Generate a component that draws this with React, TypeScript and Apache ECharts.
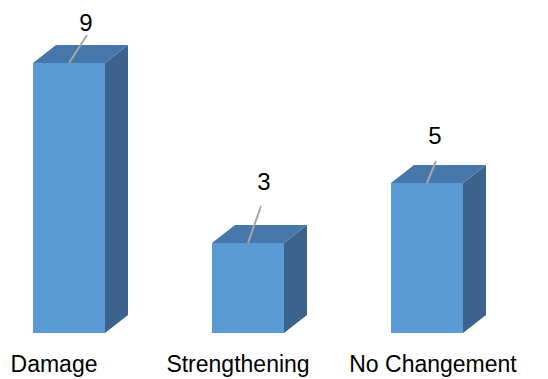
import React, { useEffect, useRef } from "react";
import * as echarts from "echarts";

const categories = ["Damage", "Strengthening", "No Changement"];
const values = [9, 3, 5];

// Layout of annotations (relative to the top-centre of each bar's front face)
const VALUE_LABEL_OFFSET = [
  [17, -41],
  [16, -62],
  [8, -48],
];
const LEADER_END_OFFSET = [
  [18, -28],
  [13, -37],
  [9, -22],
];
const CATEGORY_LABEL_SHIFT = [-15, -10, 6];

const FRONT = "#5B9BD5";
const TOP = "#4676AA";
const SIDE = "#3B638E";
const FONT = "Liberation Sans, Arial, sans-serif";

export default function App() {
  const ref = useRef<HTMLDivElement>(null);
  useEffect(() => {
    if (!ref.current) return;
    const chart = echarts.init(ref.current, undefined, { renderer: "svg" });
    const data = values.map((v, i) => [i, v]);
    chart.setOption({
      animation: false,
      backgroundColor: "#ffffff",
      grid: { left: 0, width: 537, top: 33, bottom: 46 },
      xAxis: {
        type: "category",
        data: categories,
        axisLine: { show: false },
        axisTick: { show: false },
        axisLabel: { show: false },
      },
      yAxis: { type: "value", min: 0, max: 10, show: false, splitLine: { show: false } },
      series: [
        {
          type: "custom",
          data,
          renderItem: (params: any, api: any) => {
            const idx = api.value(0);
            const val = api.value(1);
            const top = api.coord([idx, val]);
            const base = api.coord([idx, 0]);
            const cx = top[0] - 20.5;
            const half = 36;
            const x0 = cx - half;
            const x1 = cx + half;
            const yT = top[1];
            const yB = base[1];
            const dx = 23;
            const dy = 18;
            const lo = VALUE_LABEL_OFFSET[idx];
            const le = LEADER_END_OFFSET[idx];
            return {
              type: "group",
              children: [
                {
                  type: "polygon",
                  shape: { points: [[x1, yT], [x1 + dx, yT - dy], [x1 + dx, yB - dy], [x1, yB]] },
                  style: { fill: SIDE },
                },
                {
                  type: "polygon",
                  shape: { points: [[x0, yT], [x1, yT], [x1 + dx, yT - dy], [x0 + dx, yT - dy]] },
                  style: { fill: TOP },
                },
                {
                  type: "rect",
                  shape: { x: x0, y: yT, width: x1 - x0, height: yB - yT },
                  style: { fill: FRONT },
                },
                {
                  type: "line",
                  shape: { x1: cx, y1: yT, x2: cx + le[0], y2: yT + le[1] },
                  style: { stroke: "#A6A6A6", lineWidth: 2 },
                },
                {
                  type: "text",
                  x: cx + lo[0],
                  y: yT + lo[1],
                  style: {
                    text: String(val),
                    fill: "#000",
                    font: `24px ${FONT}`,
                    align: "center",
                    verticalAlign: "middle",
                  },
                },
                {
                  type: "text",
                  x: cx + CATEGORY_LABEL_SHIFT[idx],
                  y: yB + 31,
                  style: {
                    text: categories[idx],
                    fill: "#000",
                    font: `23px ${FONT}`,
                    align: "center",
                    verticalAlign: "middle",
                  },
                },
              ],
            };
          },
        },
      ],
    });
    return () => chart.dispose();
  }, []);
  return <div ref={ref} style={{ width: 548, height: 379, position: "absolute", left: 0, top: 0 }} />;
}
